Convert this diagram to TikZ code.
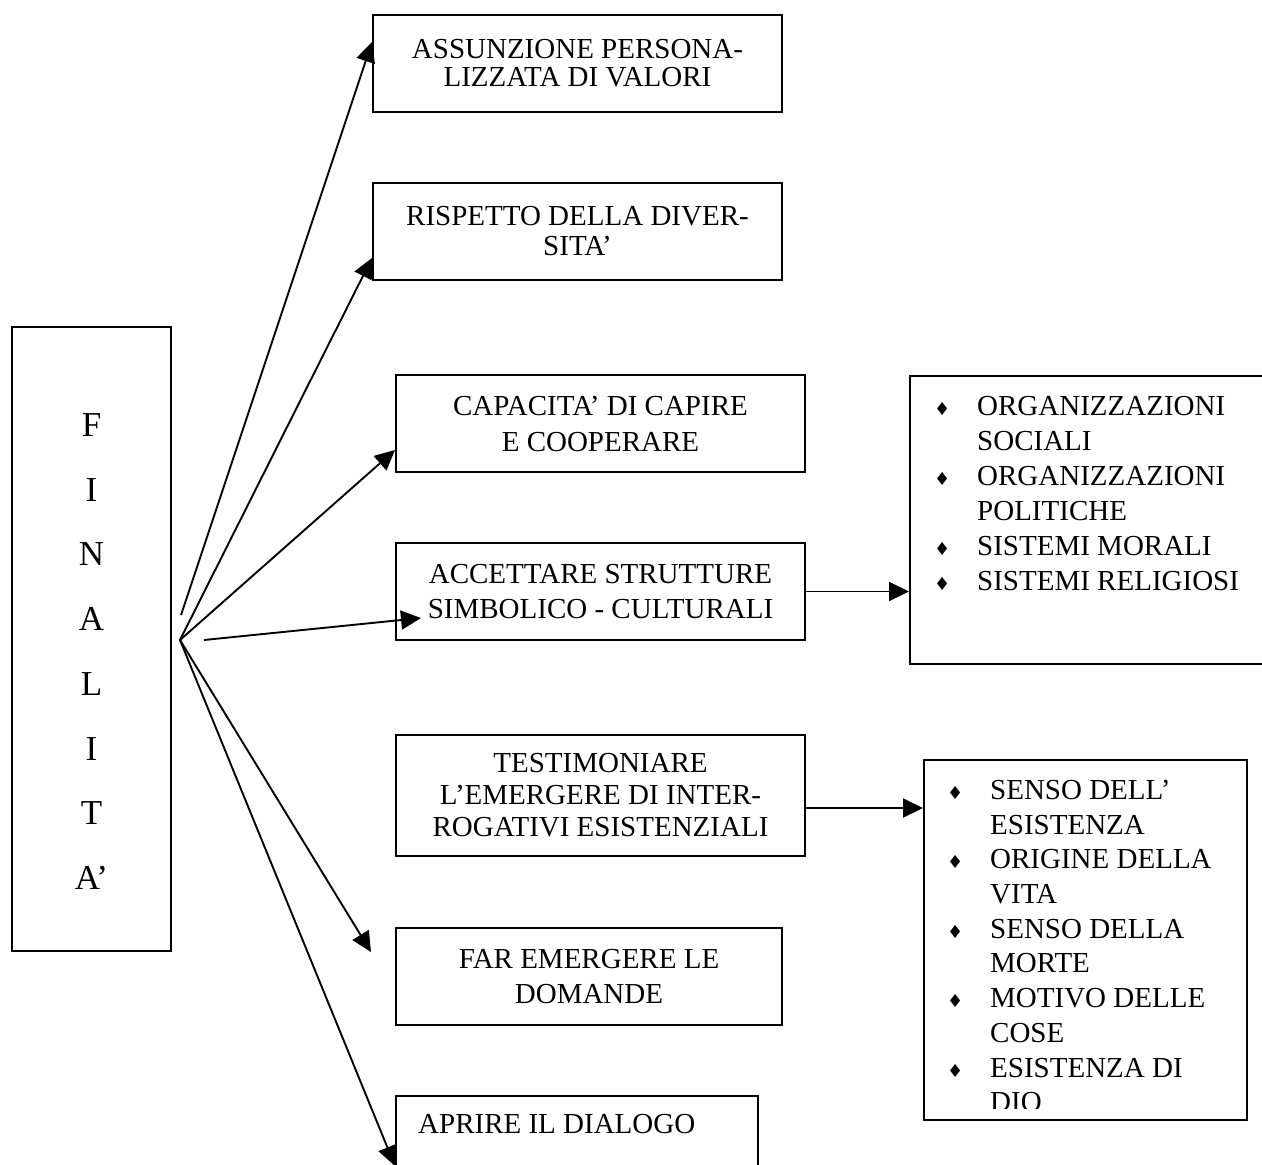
\documentclass[tikz,border=0pt]{standalone}
\usepackage{fontspec}
\setmainfont{Liberation Serif}
\newfontfamily\bulletfont{DejaVu Sans}
\usetikzlibrary{arrows.meta}
% list bullet and hanging indent for the continuation lines
\newcommand{\itembullet}{\makebox[43pt][l]{\bulletfont\fontsize{18}{18}\selectfont ♦}}
\newcommand{\itemcont}{\hspace*{43pt}}
\begin{document}
\begin{tikzpicture}[x=1pt,y=-1pt,
  goalbox/.style={draw, line width=2pt, inner sep=4pt},
  boxtext/.style={font=\fontsize{29}{#1}\selectfont, align=center},
  conn/.style={line width=1.9pt, -{Triangle[length=20pt,width=19pt]}},
  listtext/.style={font=\fontsize{29}{35}\selectfont, align=left, inner sep=0pt, anchor=north west}
]
\clip (0,0) rectangle (1262,1165);
\fill[white] (0,0) rectangle (1262,1165);

% central box
\node[goalbox, minimum width=159pt, minimum height=624pt,
  label={[font=\fontsize{35}{64.7}\selectfont, align=center, yshift=-12.5pt]center:F\\I\\N\\A\\L\\I\\T\\A’}]
  (finalita) at (91.5,639) {};

% goals
\node[goalbox, minimum width=409pt, minimum height=97pt, boxtext=28]
  (values) at (577.5,63.5) {ASSUNZIONE PERSONA-\\LIZZATA DI VALORI};
\node[goalbox, minimum width=409pt, minimum height=97pt, boxtext=30]
  (diversity) at (577.5,231.5) {RISPETTO DELLA DIVER-\\SITA’};
\node[goalbox, minimum width=409pt, minimum height=97pt, boxtext=36]
  (cooperate) at (600.5,423.5) {CAPACITA’ DI CAPIRE\\E COOPERARE};
\node[goalbox, minimum width=409pt, minimum height=97pt, boxtext=35]
  (structures) at (600.5,591.5) {ACCETTARE STRUTTURE\\SIMBOLICO - CULTURALI};
\node[goalbox, minimum width=409pt, minimum height=121pt, boxtext=32]
  (witness) at (600.5,795.5) {TESTIMONIARE\\L’EMERGERE DI INTER-\\ROGATIVI ESISTENZIALI};
\node[goalbox, minimum width=386pt, minimum height=97pt, boxtext=35]
  (questions) at (589,976.5) {FAR EMERGERE LE\\DOMANDE};
\node[goalbox, minimum width=362pt, minimum height=97pt]
  (dialogue) at (577,1144.5) {};
\node[font=\fontsize{29}{35}\selectfont, anchor=base west, inner sep=0pt]
  (dialogueText) at (418,1133) {APRIRE IL DIALOGO};

% detail boxes
\node[goalbox, minimum width=380pt, minimum height=288pt] (systems) at (1100,520) {};
\node[listtext] (systemsList) at (934,396)
  {\itembullet ORGANIZZAZIONI\\\itemcont SOCIALI\\\itembullet ORGANIZZAZIONI\\\itemcont POLITICHE\\\itembullet SISTEMI MORALI\\\itembullet SISTEMI RELIGIOSI};

\node[goalbox, minimum width=323pt, minimum height=360pt] (meaning) at (1085.5,940) {};
\begin{scope}
  \clip (924,760) rectangle (1247,1108);
  \node[listtext, font=\fontsize{29}{34.7}\selectfont] (meaningList) at (947,780)
    {\itembullet SENSO DELL’\\\itemcont ESISTENZA\\\itembullet ORIGINE DELLA\\\itemcont VITA\\\itembullet SENSO DELLA\\\itemcont MORTE\\\itembullet MOTIVO DELLE\\\itemcont COSE\\\itembullet ESISTENZA DI\\\itemcont DIO};
\end{scope}

% fan of connectors
\coordinate (hub) at (180,640);
\coordinate (hubUpper) at (181,615);
\coordinate (hubRight) at (204,640);
\draw[conn] (hubUpper) -- ([yshift=21.5pt]values.west);
\draw[conn] (hub) -- ([yshift=-26.5pt]diversity.west);
\draw[conn] (hub) -- ([yshift=-26.5pt]cooperate.west);
\draw[conn] (hubRight) -- ([xshift=26pt,yshift=-26.5pt]structures.west);
\draw[conn] (hub) -- ([xshift=-24pt,yshift=24.5pt]questions.west);
\draw[conn] (hub) -- ([yshift=-21.5pt]dialogue.west);

% links to the detail boxes
\draw[conn] (structures.east) -- (systems.west |- structures.east);
\coordinate (witnessOut) at ([yshift=-12.5pt]witness.east);
\draw[conn] (witnessOut) -- (meaning.west |- witnessOut);
\end{tikzpicture}
\end{document}
